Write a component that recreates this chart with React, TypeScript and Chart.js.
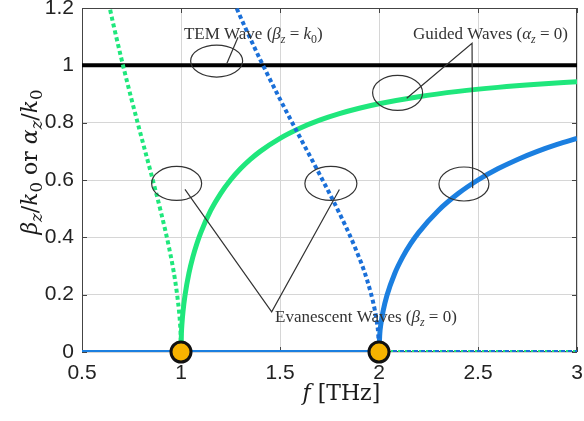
import { useEffect, useRef } from "react";
import { Chart, registerables } from "chart.js";
Chart.register(...registerables);

// ---- data ----
const xTicks = [0.5, 1, 1.5, 2, 2.5, 3];
const yTicks = [0, 0.2, 0.4, 0.6, 0.8, 1, 1.2];

const temF = [0.5, 3];
const temV = [1, 1];

// beta_z/k0, first mode (cut-off 1 THz)
const beta1F = [1, 1.002, 1.005, 1.01, 1.02, 1.04, 1.06, 1.08, 1.1, 1.15, 1.2, 1.25, 1.3, 1.35, 1.4, 1.5, 1.6, 1.7, 1.8, 1.9, 2.0, 2.2, 2.4, 2.6, 2.8, 3.0];
const beta1V = [0, 0.0632, 0.0997, 0.1404, 0.197, 0.2747, 0.3317, 0.3777, 0.4166, 0.4938, 0.5528, 0.6, 0.639, 0.6718, 0.6999, 0.7454, 0.7806, 0.8087, 0.8315, 0.8503, 0.866, 0.8907, 0.9091, 0.9231, 0.9341, 0.9428];
const beta1ZeroF = [0.5, 1];
const beta1ZeroV = [0, 0];

// alpha_z/k0, first mode
const alpha1F = [0.62, 0.64, 0.66, 0.7, 0.75, 0.8, 0.85, 0.9, 0.94, 0.97, 0.99, 0.995, 0.998, 1];
const alpha1V = [1.2655, 1.2006, 1.1383, 1.0202, 0.8819, 0.75, 0.6197, 0.4843, 0.3629, 0.2507, 0.1425, 0.1004, 0.0633, 0];
const alpha1ZeroF = [1, 3];
const alpha1ZeroV = [0, 0];

// beta_z/k0, second mode (cut-off 2 THz)
const beta2F = [2, 2.004, 2.01, 2.02, 2.04, 2.08, 2.12, 2.16, 2.2, 2.3, 2.4, 2.5, 2.6, 2.7, 2.8, 2.9, 3.0];
const beta2V = [0, 0.0632, 0.0997, 0.1404, 0.197, 0.2747, 0.3317, 0.3777, 0.4166, 0.4938, 0.5528, 0.6, 0.639, 0.6718, 0.6999, 0.7241, 0.7454];
const beta2ZeroF = [0.5, 2];
const beta2ZeroV = [0, 0];

// alpha_z/k0, second mode
const alpha2F = [1.24, 1.28, 1.32, 1.4, 1.5, 1.6, 1.7, 1.8, 1.88, 1.94, 1.98, 1.99, 1.996, 2];
const alpha2V = [1.2655, 1.2006, 1.1383, 1.0202, 0.8819, 0.75, 0.6197, 0.4843, 0.3629, 0.2507, 0.1425, 0.1004, 0.0633, 0];
const alpha2ZeroF = [2, 3];
const alpha2ZeroV = [0, 0];

const cutoffF = [1, 2];
const cutoffV = [0, 0];

// annotation anchors, in data units
const ellipseX = [1.18, 2.094, 2.429, 0.978, 1.757];
const ellipseY = [1.015, 0.904, 0.586, 0.588, 0.588];

const zip = (xs: number[], ys: number[]) => xs.map((x, i) => ({ x, y: ys[i] }));

type Seg = { t: string; it?: boolean; sub?: boolean };
const SERIF = '"Liberation Serif", "DejaVu Serif", serif';
const WIDE_SERIF = '"DejaVu Serif", "Liberation Serif", serif';

function drawRich(ctx: CanvasRenderingContext2D, segs: Seg[], x: number, y: number, size: number, align: "left" | "center", subRatio = 0.7, fam = SERIF) {
  const fontOf = (s: Seg) => `${s.it ? "italic " : ""}${s.sub ? size * subRatio : size}px ${fam}`;
  let w = 0;
  for (const s of segs) {
    ctx.font = fontOf(s);
    w += ctx.measureText(s.t).width;
  }
  let cx = align === "center" ? x - w / 2 : x;
  ctx.textAlign = "left";
  ctx.textBaseline = "alphabetic";
  for (const s of segs) {
    ctx.font = fontOf(s);
    ctx.fillText(s.t, cx, y + (s.sub ? size * 0.22 : 0));
    cx += ctx.measureText(s.t).width;
  }
}

const temText: Seg[] = [{ t: "TEM Wave (" }, { t: "β", it: true }, { t: "z", it: true, sub: true }, { t: " = " }, { t: "k", it: true }, { t: "0", sub: true }, { t: ")" }];
const guidedText: Seg[] = [{ t: "Guided Waves (" }, { t: "α", it: true }, { t: "z", it: true, sub: true }, { t: " = 0)" }];
const evanText: Seg[] = [{ t: "Evanescent Waves (" }, { t: "β", it: true }, { t: "z", it: true, sub: true }, { t: " = 0)" }];
const yTitle: Seg[] = [
  { t: "β", it: true }, { t: "z", it: true, sub: true }, { t: "/" }, { t: "k", it: true }, { t: "0", sub: true },
  { t: " or " },
  { t: "α", it: true }, { t: "z", it: true, sub: true }, { t: "/" }, { t: "k", it: true }, { t: "0", sub: true },
];
const xTitle: Seg[] = [{ t: "f", it: true }, { t: " [THz]" }];

const decorPlugin = {
  id: "decor",
  beforeDatasetsDraw(chart: any) {
    const { ctx, chartArea: a, scales } = chart;
    ctx.save();
    ctx.strokeStyle = "#444";
    ctx.lineWidth = 1;
    ctx.strokeRect(a.left + 0.5, a.top + 0.5, a.right - a.left - 1, a.bottom - a.top - 1);
    ctx.beginPath();
    for (const v of yTicks) {
      const py = Math.round(scales.y.getPixelForValue(v)) + 0.5;
      ctx.moveTo(a.left, py); ctx.lineTo(a.left + 5, py);
      ctx.moveTo(a.right, py); ctx.lineTo(a.right - 5, py);
    }
    for (const v of xTicks) {
      const px = Math.round(scales.x.getPixelForValue(v)) + 0.5;
      ctx.moveTo(px, a.top); ctx.lineTo(px, a.top + 5);
      ctx.moveTo(px, a.bottom); ctx.lineTo(px, a.bottom - 5);
    }
    ctx.stroke();
    ctx.restore();
  },
  afterDatasetsDraw(chart: any) {
    const { ctx, scales } = chart;
    const X = (v: number) => scales.x.getPixelForValue(v);
    const Y = (v: number) => scales.y.getPixelForValue(v);
    ctx.save();
    ctx.strokeStyle = "#333";
    ctx.lineWidth = 1.2;
    const radii = [[26, 16], [25, 17.5], [25, 17], [25, 17], [26, 17]];
    ellipseX.forEach((ex, i) => {
      ctx.beginPath();
      ctx.ellipse(X(ex), Y(ellipseY[i]), radii[i][0], radii[i][1], 0, 0, Math.PI * 2);
      ctx.stroke();
    });
    const poly = (pts: number[][]) => {
      ctx.beginPath();
      pts.forEach(([px, py], i) => (i ? ctx.lineTo(X(px), Y(py)) : ctx.moveTo(X(px), Y(py))));
      ctx.stroke();
    };
    poly([[1.232, 1.007], [1.288, 1.098]]);
    poly([[2.140, 0.885], [2.470, 1.077], [2.473, 0.571]]);
    poly([[1.020, 0.567], [1.458, 0.140], [1.800, 0.567]]);
    ctx.fillStyle = "#333";
    drawRich(ctx, temText, X(1.015), Y(1.111) + 5.5, 17, "left");
    drawRich(ctx, guidedText, X(2.172), Y(1.111) + 5.5, 17, "left");
    drawRich(ctx, evanText, X(1.475), Y(0.123) + 5.5, 17, "left");
    // axis titles
    ctx.fillStyle = "#1a1a1a";
    drawRich(ctx, xTitle, X(1.81), 400, 22, "center", 0.75, WIDE_SERIF);
    ctx.translate(37, 162);
    ctx.rotate(-Math.PI / 2);
    drawRich(ctx, yTitle, 0, 0, 22, "center", 0.75, WIDE_SERIF);
    ctx.restore();
  },
};

export default function App() {
  const ref = useRef<HTMLCanvasElement | null>(null);
  useEffect(() => {
    document.body.style.margin = "0";
    if (!ref.current) return;
    const green = "#1fe77c";
    const blue = "#1b7fe0";
    const blueDot = "#1a6fd8";
    const line = (xs: number[], ys: number[], color: string, width: number, dashed: boolean) => ({
      data: zip(xs, ys),
      showLine: true,
      borderColor: color,
      borderWidth: width,
      borderDash: dashed ? [4, 3] : [],
      pointRadius: 0,
      cubicInterpolationMode: "monotone" as const,
    });
    // listed bottom-to-top, then reversed because Chart.js paints the first dataset last
    const bottomToTop = [
      line(temF, temV, "#000", 4, false),
      line(beta1ZeroF, beta1ZeroV, green, 4, false),
      line(alpha1ZeroF, alpha1ZeroV, green, 4, true),
      line(beta1F, beta1V, green, 5, false),
      line(alpha1F, alpha1V, green, 4, true),
      line(beta2ZeroF, beta2ZeroV, blue, 4, false),
      line(alpha2ZeroF, alpha2ZeroV, blueDot, 4, true),
      line(beta2F, beta2V, blue, 5, false),
      line(alpha2F, alpha2V, blueDot, 4, true),
      { data: zip(cutoffF, cutoffV), showLine: false, pointRadius: 10, pointBackgroundColor: "#f7b300", pointBorderColor: "#111", pointBorderWidth: 3, clip: false } as any,
    ];
    const chart = new Chart(ref.current, {
      type: "scatter",
      data: { datasets: bottomToTop.reverse() },
      options: {
        animation: false,
        responsive: false,
        devicePixelRatio: 1,
        layout: { autoPadding: false, padding: { top: 8, right: 7, left: 0, bottom: 0 } },
        plugins: { legend: { display: false }, tooltip: { enabled: false } },
        scales: {
          x: {
            type: "linear",
            min: 0.5,
            max: 3,
            afterBuildTicks: (s: any) => { s.ticks = xTicks.map((v) => ({ value: v })); },
            afterFit: (s: any) => { s.height = 69; s.paddingLeft = 0; s.paddingRight = 0; },
            ticks: { font: { family: '"Liberation Sans", Arial, sans-serif', size: 21 }, color: "#222", padding: 9, maxRotation: 0, callback: (v: any) => String(v) },
            grid: { color: "#d6d6d6", lineWidth: 1, drawTicks: false },
            border: { display: false },
          },
          y: {
            type: "linear",
            min: 0,
            max: 1.2,
            afterBuildTicks: (s: any) => { s.ticks = yTicks.map((v) => ({ value: v })); },
            afterFit: (s: any) => { s.width = 82; s.paddingTop = 0; s.paddingBottom = 0; },
            ticks: { font: { family: '"Liberation Sans", Arial, sans-serif', size: 21 }, color: "#222", padding: 8, callback: (v: any) => String(Math.round(v * 10) / 10) },
            grid: { color: "#d6d6d6", lineWidth: 1, drawTicks: false },
            border: { display: false },
          },
        },
      },
      plugins: [decorPlugin],
    });
    return () => chart.destroy();
  }, []);
  return (
    <div style={{ width: 584, height: 421 }}>
      <canvas ref={ref} width={584} height={421} style={{ display: "block" }} />
    </div>
  );
}
